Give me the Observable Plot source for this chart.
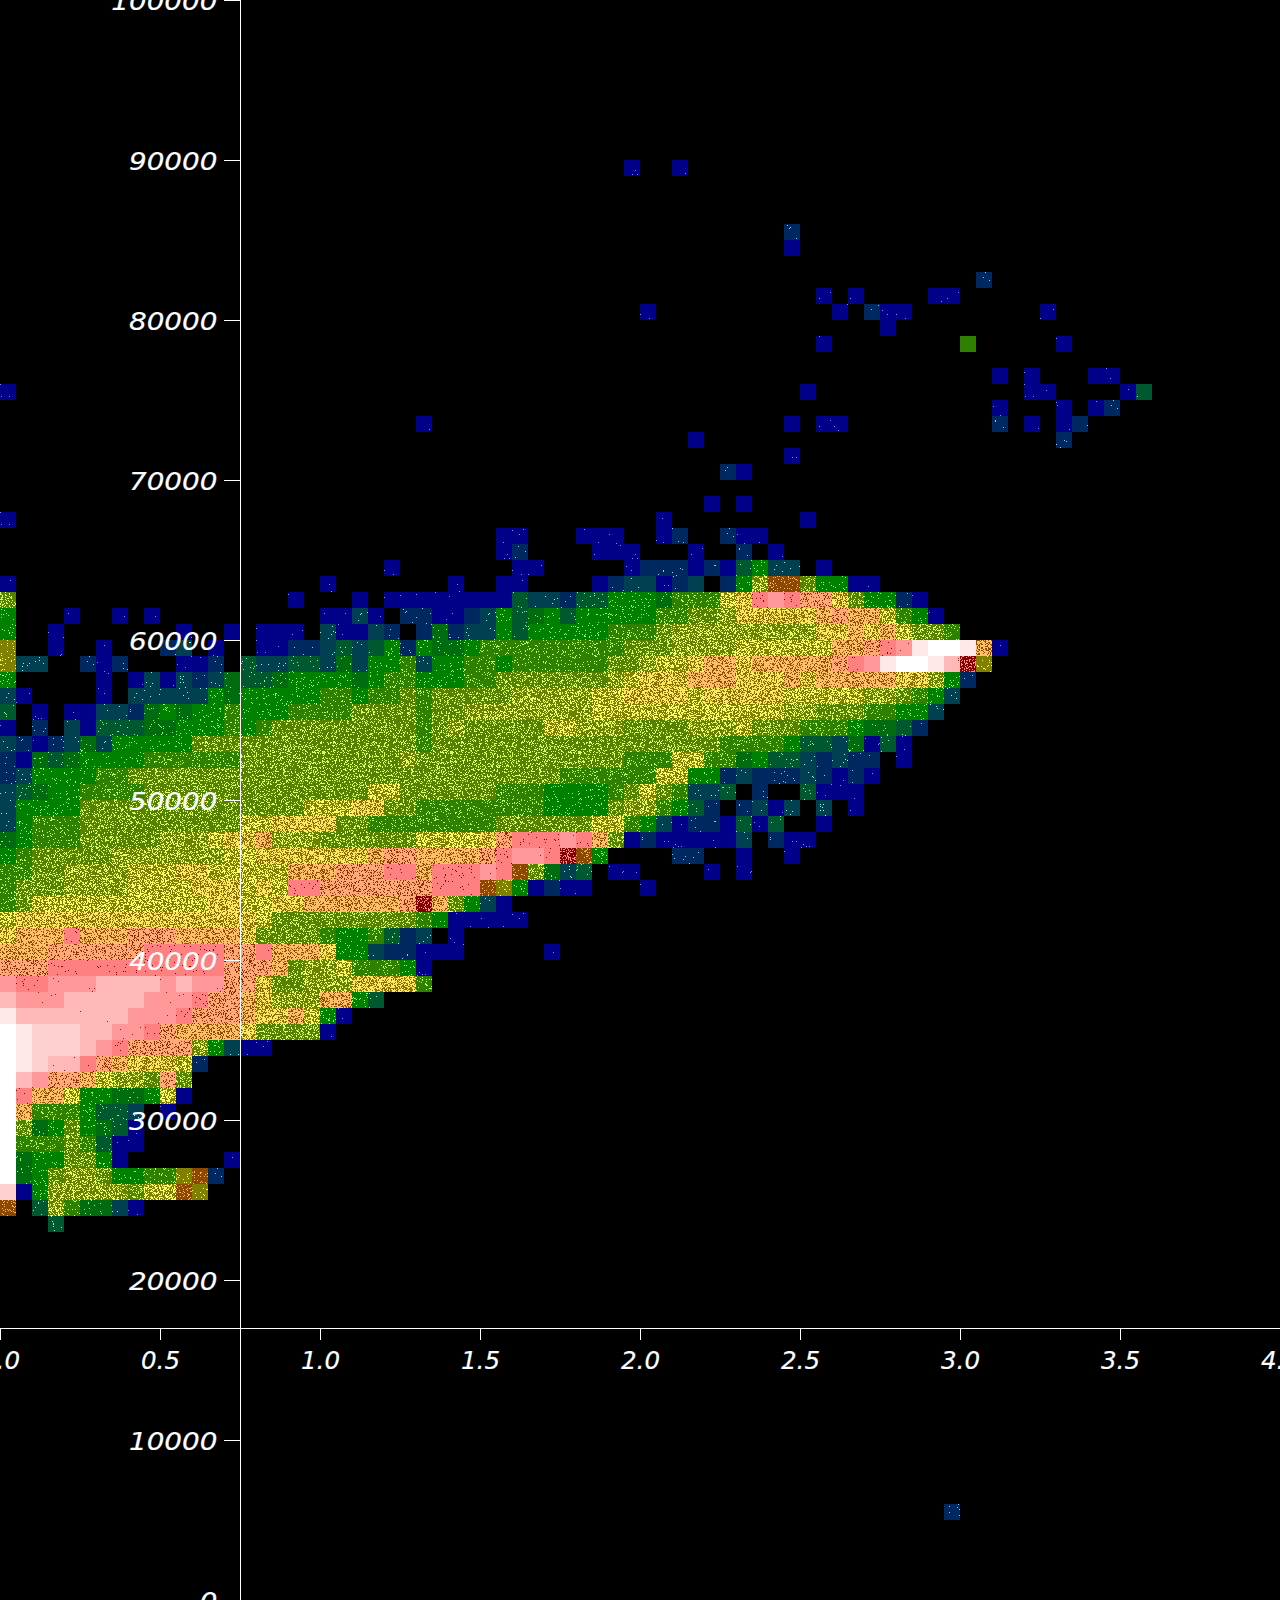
<!DOCTYPE html>
<html>
<head>
<meta charset="utf-8">
<script src="https://cdn.jsdelivr.net/npm/d3@7"></script>
<script src="https://cdn.jsdelivr.net/npm/@observablehq/plot@0.6"></script>
<style>
html,body{margin:0;padding:0;background:#000;overflow:hidden}
svg{display:block}
</style>
</head>
<body>
<script>
// Tick labels
const xTicks = [0, 0.5, 1, 1.5, 2, 2.5, 3, 3.5, 4];
const yTicks = [0, 10000, 20000, 30000, 40000, 50000, 60000, 70000, 80000, 90000, 100000];
const xBin = 0.05, yBin = 1000;

// Sparse cells (outliers): column index, row index (from the top), level
const sparseCols = [39,42,49,49,61,51,53,58,59,40,52,54,55,56,65,55,51,60,66,62,64,68,69,50,64,65,70,71,62,66,68,69,49,51,52,62,64,66,67,43,66,49,45,46,44,46,41,50,26,31,32,36,37,38,41,42,45,46,47,31,32,37,38,39,43,46,48,0,0,59];
const sparseRows = [10,10,14,15,17,18,18,18,18,19,19,19,19,19,19,20,21,21,21,23,23,23,23,24,24,24,24,24,25,25,25,25,26,26,26,26,26,26,26,27,27,28,29,29,31,31,32,32,26,33,33,33,33,33,33,33,33,33,33,34,34,34,34,34,34,34,34,24,32,94];
const sparseLevelList = ["1","1","2","1","2","1","1","1","1","1","1","2","1","1","1","1","1","p","1","1","1","1","1","1","1","1","1","4","1","1","1","2","1","1","1","2","1","1","2","1","2","1","2","1","1","1","1","1","1","1","1","1","1","1","1","2","2","1","1","1","2","1","1","1","1","2","1","1","1","2"];

// Dense rows, first row index = 35; columns 0-25, 26-45, 46-71 (spaces only group the reading)
const firstDenseRow = 35;
const cellsLeft = [
"........................1.",
"1...................1.....",
"8.................1...1.11",
"6...1..1.1..........1131.2",
"6..1.......1..1.111.31132.",
"o..1..1...23.1..11223 4346 2",
"o33..212...112.4334435366 7",
"6.....1.13132354456666 5677",
"31....1.33333 65666667767 78",
"4.1.11332565667666777 78888",
"1.2.31444556667 67888888888",
"321235366666 88888888888888",
"215456666777777 8888888888 9",
"236666 77 888888888888888888",
"34566 7777 88888888888888 aa8",
"36666 88888888888888 aaabb 88",
"36777 8888888888 aa bbbb 88 777",
"56777 88888 999 ab bc 999 888888",
"6 7888 88999 9999 aabbbb bbb cd d",
"7788 9999aaa bb aaa aa cccd ddee",
"7888 9999aaaa bbb ab a ee dd ddd d",
"78a aaaaaaaaaa bb aa bbcccccc d",
"a bbbbbbbbbbbbbbb a 888888888",
"bccc e ccc ddd cccc b 8888 7 6 67 4 2",
"cccd ddddd eeeee d d e cccb 66 3 22",
"ddd eeeee eeeeee d dd c 899 a 777 6",
"fe ef ff gg ggf g ff d d b 889 99 bbbb",
"g fff ggggg ff f e dd c b 999 cc 6 4",
"i gg ggggg fff e ddd c b b c a 6 1",
"jihhhggffedcccc b 8888 1",
"jihhhgfe dddd 9 6 3 11",
"jihgge dc bbba 2",
"jgf ddc a 99 8 d 8",
"je cc a 66 55 6 a 1",
"jc 777 6 44 3 . 1",
"j8 5 6 86 5 4 1",
"j7 77 87 4 11",
"j5 66 88 6 1 ...... 1",
"j5 6 8 99 8 66 77 o k 2",
"h1 6 999 99 8 aa k o",
"k. 4 9 7 55 3 1",
"...4"
];
const cellsMiddle = [
"......11.....1222121",
"..1..11....1233123.2",
"111111433244666 5777a",
"2112364564 66666 77889",
"2523364 66666 7 77 8 9999",
"6556 7777777 77888 9999",
"3667767 77777 88 9 aab cc",
"66677 8888888 9 a bbb cc c",
"7 88888 9999 9aa bbbb a bb",
"78899 999999 aa aaaa aaa",
"789 88888 aa 999 8888 999",
"7 888888888888888888 7",
"8888888888888 777 aa 77",
"888888888 777 7 77 a a 6 6 2",
"88888 777 6666 7 8 a 8 7 3 3 4",
"77777777 6666 8 99 7 6 4 2 .",
"77777 888888 aa 7 6 3 1 22 1",
"aaaa b d eee f e c 8 1 2 11111",
"cccc d e ff e n k 6 .... 22 ..",
"c eee f e k 8 5 3 4 . 11 .... 1 .",
"deeeko6121 1...1",
"nc8631",
"7611111",
"3.1",
"111.....1",
"1",
"7"
];
const cellsRight = [
"4633.1",
"69kk86611",
"befeddb86621",
"bbbbbcdcca761",
"99999b bcbc a 88 7",
"aaaaaaccdefijjic1",
"bcccccdefijjigno",
"bbbcbccccc bb 9 6 2",
"bbb aaaaa 99 8 76 3",
"aaa 99888 77 66 3",
"a 888 777 6 55 4 2",
"777 6 44 3 5 1 4 1",
"5 6 44 3 2 3 22 . 1",
"322232121",
".2..4111",
"2313.3.1",
"414..1",
"3.211",
"1..1",
"1"
];

// Level palette: base colour, dot colour, dot coverage
const levelNames  = ["1","2","3","4","5","6","7","8","9","a","b","c","d","e","f","g","h","i","j","k","n","o","p"];
const levelBase   = ["#000088","#002860","#004050","#005830","#006c10","#008000","#2f8000","#558000","#6a8000","#808000","#857000","#8b5000","#ffa878","#ff8080","#ff9999","#ffb8b8","#ffd0d0","#ffe8e8","#ffffff","#8b4800","#800000","#808000","#2f8000"];
const levelDot    = ["#8888ff","#88ccff","#88ffdd","#88ff88","#88ff66","#99ff66","#bbff66","#ddff66","#eeff66","#ffff66","#ffe860","#ffbe68","#8b3000","#800000","#8b2000","#8b2000","#8b2000","#8b2000","#ffffff","#ffb060","#ff8888","#ffff66","#bbff66"];
const levelDots   = [0.004,0.008,0.012,0.02,0.03,0.05,0.1,0.22,0.32,0.42,0.56,0.7,0.22,0.02,0.005,0.002,0,0,0,0.12,0.25,0.06,0.004];

const cells = [];
const strip = s => s.replace(/ /g, "");
sparseCols.forEach((c, i) => cells.push({c, r: sparseRows[i], level: sparseLevelList[i]}));
cellsLeft.forEach((s, i) => [...strip(s)].forEach((level, j) => { if (level !== ".") cells.push({c: j, r: firstDenseRow + i, level}); }));
cellsMiddle.forEach((s, i) => [...strip(s)].forEach((level, j) => { if (level !== ".") cells.push({c: 26 + j, r: firstDenseRow + i, level}); }));
cellsRight.forEach((s, i) => [...strip(s)].forEach((level, j) => { if (level !== ".") cells.push({c: 46 + j, r: firstDenseRow + i, level}); }));

const labelStyle = {fill: "#fff", stroke: "#fff", strokeWidth: 0.2, fontSize: 24, fontStyle: "italic", fontWeight: 300, fontFamily: "DejaVu Sans", dy: 2};
const chart = Plot.plot({
  width: 1280, height: 1600,
  marginTop: 0, marginRight: 0, marginBottom: 0, marginLeft: 0,
  style: {background: "#000", color: "#fff"},
  x: {domain: [0, 4], axis: null},
  y: {domain: [0, 100000], axis: null},
  marks: [
    Plot.rect(cells, {
      x1: d => d.c * xBin,
      x2: d => (d.c + 1) * xBin,
      y1: d => (99 - d.r) * yBin,
      y2: d => (100 - d.r) * yBin,
      fill: {value: d => `url(#lv-${d.level})`, scale: null},
      shapeRendering: "crispEdges"
    }),
    Plot.ruleX([0.75], {stroke: "#fff", strokeWidth: 1}),
    Plot.ruleY([17000], {stroke: "#fff", strokeWidth: 1}),
    Plot.ruleX(xTicks, {x: d => d, y1: 17000, y2: 16250, stroke: "#fff"}),
    Plot.ruleY(yTicks, {y: d => d, x1: 0.70, x2: 0.75, stroke: "#fff"}),
    Plot.text(xTicks, {x: d => d, y: 15060, text: d => d.toFixed(1), textAnchor: "middle", ...labelStyle}),
    Plot.text(yTicks, {x: 0.678, y: d => d, text: d => String(d), textAnchor: "end", ...labelStyle})
  ]
});

// Stipple textures for the cell fills
const NS = "http://www.w3.org/2000/svg";
const defs = document.createElementNS(NS, "defs");
const TILE = 128;
function hash(x, y) {
  let n = (Math.imul(x, 374761393) + Math.imul(y, 668265263)) | 0;
  n = Math.imul(n ^ (n >>> 13), 1274126177);
  return ((n ^ (n >>> 16)) >>> 0) / 4294967296;
}
levelNames.forEach((name, i) => {
  const p = document.createElementNS(NS, "pattern");
  p.setAttribute("id", "lv-" + name);
  p.setAttribute("patternUnits", "userSpaceOnUse");
  p.setAttribute("width", TILE);
  p.setAttribute("height", TILE);
  const bg = document.createElementNS(NS, "rect");
  bg.setAttribute("width", TILE);
  bg.setAttribute("height", TILE);
  bg.setAttribute("fill", levelBase[i]);
  p.appendChild(bg);
  let d = "";
  for (let y = 0; y < TILE; y++) for (let x = 0; x < TILE; x++) {
    if (hash(x + i * 131, y + i * 17) < levelDots[i]) d += `M${x} ${y}h1v1h-1z`;
  }
  if (d) {
    const path = document.createElementNS(NS, "path");
    path.setAttribute("d", d);
    path.setAttribute("fill", levelDot[i]);
    path.setAttribute("shape-rendering", "crispEdges");
    p.appendChild(path);
  }
  defs.appendChild(p);
});
chart.insertBefore(defs, chart.firstChild);

// Keep the cells on the pixel grid
chart.querySelectorAll('g[aria-label="rect"]').forEach(g => g.removeAttribute("transform"));

// Wide tick-label lettering
chart.querySelectorAll("text").forEach(t => {
  const s = t.textContent;
  const w = s.includes(".") ? 39 : s.length * 17.7;
  t.setAttribute("textLength", w);
  t.setAttribute("lengthAdjust", "spacingAndGlyphs");
});

document.body.appendChild(chart);
</script>
</body>
</html>
